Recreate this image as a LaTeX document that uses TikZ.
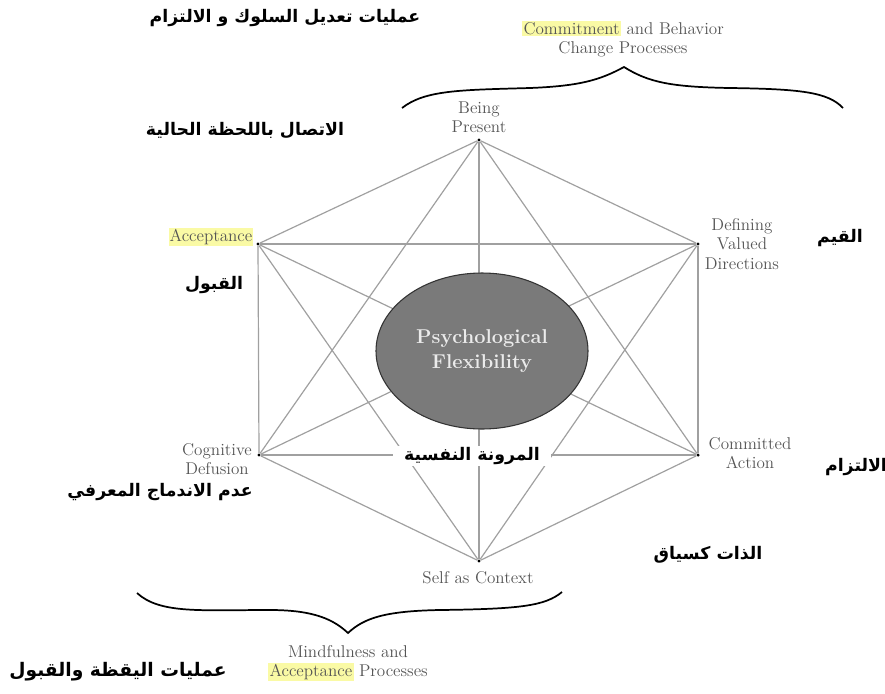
\documentclass[tikz,border=0pt]{standalone}
\usepackage{fontspec}
\newfontfamily\arabicfont[Script=Arabic]{DejaVu Sans}
\TeXXeTstate=1
\usepackage{tikz}
\usetikzlibrary{shapes.geometric}
\definecolor{edgegray}{RGB}{160,160,160}
\definecolor{labelgray}{RGB}{85,85,85}
\definecolor{hilite}{RGB}{250,250,165}
\definecolor{coregray}{RGB}{122,122,122}
\tikzset{
  link/.style={draw=edgegray, line width=0.9pt},
  vertexdot/.style={circle, fill=black, inner sep=0pt, minimum size=2.6pt},
  enlabel/.style={text=labelgray, font=\fontsize{12.8}{14.5}\selectfont, align=center, inner sep=0.75pt},
  arlabel/.style={font=\arabicfont\bfseries\fontsize{13}{15}\selectfont, inner sep=0.75pt},
  bracket/.style={line width=1.3pt},
  core/.style={draw=black!80, line width=0.8pt, ellipse, fill=coregray, text=white!92!black,
    font=\bfseries\fontsize{15}{19}\selectfont, align=center, minimum width=159pt, minimum height=117pt},
}

\begin{document}
\begin{tikzpicture}[x=0.75pt,y=0.75pt,yscale=-1]
\useasboundingbox (0,0) rectangle (885,693);

% Vertex Nodes
\node[vertexdot] (top) at (479,140) {};
\node[vertexdot] (acc) at (258,244) {};
\node[vertexdot] (dvd) at (698,244) {};
\node[vertexdot] (cdf) at (259,455) {};
\node[vertexdot] (cma) at (698,455) {};
\node[vertexdot] (sac) at (479,561) {};

% Connection
\foreach \a/\b in {top/acc,top/dvd,top/cdf,top/cma,top/sac,acc/dvd,acc/cdf,acc/cma,acc/sac,dvd/cdf,dvd/cma,dvd/sac,cdf/cma,cdf/sac,cma/sac}
  \draw[link] (\a) -- (\b);

% Ellipse Node
\node[core] (flex) at (482,351) {Psychological\\Flexibility};
% Text Node
\node[arlabel, fill=white, inner xsep=8pt] (flexar) at (472,456) {\beginR المرونة النفسية\endR};

% Text Node
\node[enlabel] (beingtxt) at (479,117) {Being\\Present};
% Text Node
\node[enlabel, fill=hilite] (acctxt) at (211,237) {Acceptance};
% Text Node
\node[enlabel] (dvdtxt) at (742,244) {Defining\\Valued\\Directions};
% Text Node
\node[enlabel] (cdftxt) at (217,459) {Cognitive\\Defusion};
% Text Node
\node[enlabel] (cmatxt) at (750,453) {Committed\\Action};
% Text Node
\node[enlabel] (sactxt) at (478,578) {Self as Context};
% Text Node
\node[enlabel] (cbtxt) at (623,39) {{\fboxsep=1pt\colorbox{hilite}{Commitment}} and Behavior\\Change Processes};
% Text Node
\node[enlabel] (matxt) at (348,663) {Mindfulness and\\{\fboxsep=1pt\colorbox{hilite}{Acceptance}} Processes};

% Text Node
\node[arlabel] (cbar) at (285,18) {\beginR عمليات تعديل السلوك و الالتزام\endR};
% Text Node
\node[arlabel] (beingar) at (245,130) {\beginR الاتصال باللحظة الحالية\endR};
% Text Node
\node[arlabel] (accar) at (214,285) {\beginR القبول\endR};
% Text Node
\node[arlabel] (dvdar) at (840,238) {\beginR القيم\endR};
% Text Node
\node[arlabel] (cmaar) at (856,467) {\beginR الالتزام\endR};
% Text Node
\node[arlabel] (cdfar) at (160,492) {\beginR عدم الاندماج المعرفي\endR};
% Text Node
\node[arlabel] (sacar) at (708,555) {\beginR الذات كسياق\endR};
% Text Node
\node[arlabel, font=\arabicfont\bfseries\fontsize{14}{16}\selectfont] (maar) at (118,672) {\beginR عمليات اليقظة والقبول\endR};

% Brace
\draw[bracket] (402,108) .. controls (425,90) and (460,90) .. (530,88) .. controls (580,86) and (600,80) .. (624,67)
  .. controls (648,82) and (670,87) .. (730,88) .. controls (800,89) and (828,92) .. (843,108);
% Brace
\draw[bracket] (137,593) .. controls (160,614) and (200,610) .. (270,610) .. controls (315,610) and (334,620) .. (348,633)
  .. controls (364,618) and (385,611) .. (440,610) .. controls (520,609) and (545,606) .. (562,592);

\end{tikzpicture}
\end{document}
